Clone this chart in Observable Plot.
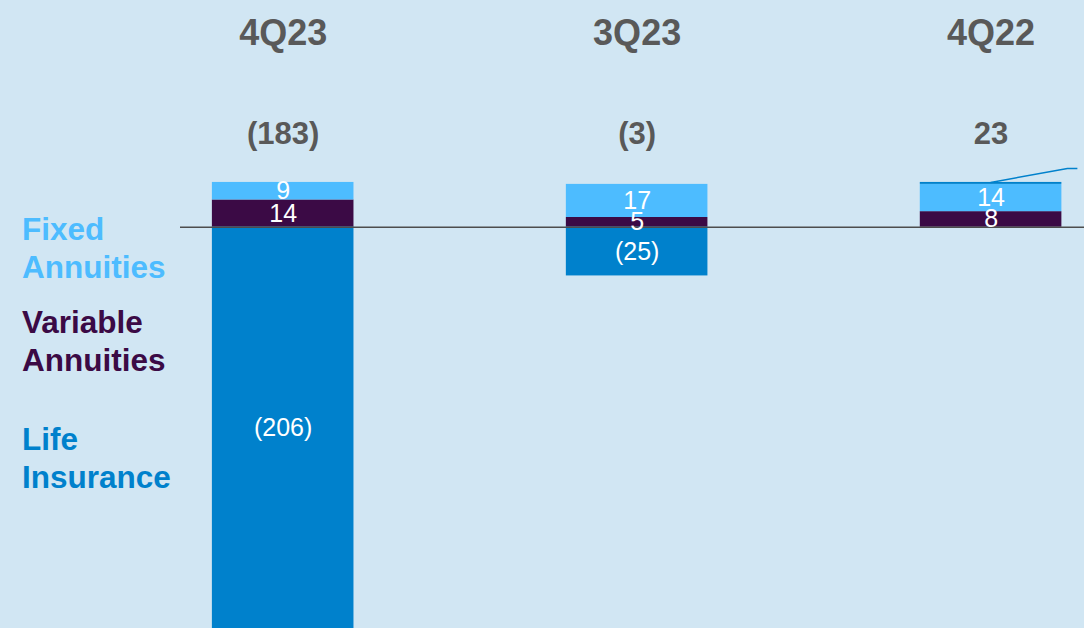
<!DOCTYPE html>
<html>
<head>
<meta charset="utf-8">
<script src="https://cdn.jsdelivr.net/npm/d3@7"></script>
<script src="https://cdn.jsdelivr.net/npm/@observablehq/plot@0.6"></script>
<style>
  html, body { margin: 0; padding: 0; background: #d1e6f3; }
  #wrap { position: relative; width: 1084px; height: 628px; overflow: hidden; font-family: "Liberation Sans", Arial, sans-serif; }
  #legend { position: absolute; left: 22px; top: 210px; font-weight: bold; font-size: 31.5px; line-height: 38px; }
  #legend div { margin: 0; }
</style>
</head>
<body>
<div id="wrap">
  <div id="chart"></div>
  <div id="legend"></div>
</div>
<script>
// ---- data ----
const quarters = ["4Q23", "3Q23", "4Q22"];
const totals = [-183, -3, 23];
const segments = ["Variable Annuities", "Fixed Annuities", "Life Insurance"];
const segmentColors = ["#3b0a45", "#4dbcff", "#0081cc"];
const variableAnnuities = [14, 5, 8];
const fixedAnnuities = [9, 17, 14];
const lifeInsurance = [-206, -25, 1];

const fmt = v => v < 0 ? `(${Math.abs(v)})` : `${v}`;

const rows = [];
quarters.forEach((q, i) => {
  rows.push({quarter: q, segment: segments[0], value: variableAnnuities[i]});
  rows.push({quarter: q, segment: segments[1], value: fixedAnnuities[i]});
  rows.push({quarter: q, segment: segments[2], value: lifeInsurance[i]});
});
const totalRows = quarters.map((q, i) => ({quarter: q, total: totals[i]}));

const stackOpts = {x: "quarter", y: "value", z: "segment", order: segments};

const plot = Plot.plot({
  width: 1084,
  height: 628,
  marginLeft: 180,
  marginRight: 0,
  marginTop: 0,
  marginBottom: 0,
  style: {background: "#d1e6f3", fontFamily: "'Liberation Sans', Arial, sans-serif", overflow: "hidden"},
  x: {domain: quarters, paddingInner: 0.6, paddingOuter: 0.077, align: 0.585, round: false, axis: null},
  y: {domain: [-206, 116.4], axis: null},
  color: {domain: segments, range: segmentColors},
  marks: [
    Plot.barY(rows, Plot.stackY({...stackOpts, fill: "segment", inset: 0})),
    Plot.ruleY([0], {stroke: "#4d4d4d", strokeWidth: 1.5}),
    Plot.text(rows, Plot.stackY({...stackOpts, text: d => Math.abs(d.value) < 3 ? "" : fmt(d.value),
      fill: "white", fontSize: 25, fontWeight: "normal"})),
    Plot.text(quarters, {x: d => d, frameAnchor: "top", lineAnchor: "middle", dy: 33, text: d => d,
      fill: "#595959", fontSize: 36, fontWeight: "bold"}),
    Plot.text(totalRows, {x: "quarter", frameAnchor: "top", lineAnchor: "middle", dy: 134, text: d => fmt(d.total),
      fill: "#595959", fontSize: 31, fontWeight: "bold"})
  ]
});
document.getElementById("chart").appendChild(plot);

// callout leader line for the small 4Q22 Life Insurance segment, positioned through Plot's scales
(function () {
  const xs = plot.scale("x"), ys = plot.scale("y");
  let xb;
  if (xs.apply) { xb = xs.apply; } else {
    xb = d3.scaleBand(xs.domain, xs.range).paddingInner(xs.paddingInner).paddingOuter(xs.paddingOuter).align(xs.align);
  }
  const yf = ys.apply ? ys.apply : d3.scaleLinear(ys.domain, ys.range);
  const bw = xs.bandwidth != null ? xs.bandwidth : 141;
  const i = 2;
  const q = quarters[i];
  const top = variableAnnuities[i] + fixedAnnuities[i] + lifeInsurance[i];
  const x0 = xb(q) + bw / 2, y0 = yf(top) + 0.5;
  const x1 = xb(q) + bw + 6, y1 = y0 - 14;
  d3.select(plot).append("path")
    .attr("d", `M${x0},${y0}L${x1},${y1}L${x1 + 10},${y1}`)
    .attr("fill", "none").attr("stroke", segmentColors[2]).attr("stroke-width", 1.5);
})();

// legend
const legend = document.getElementById("legend");
const legendLines = [["Fixed", "Annuities"], ["Variable", "Annuities"], ["Life", "Insurance"]];
const legendColors = [segmentColors[1], segmentColors[0], segmentColors[2]];
const gaps = [0, 17, 41];
legendLines.forEach((lines, k) => {
  const d = document.createElement("div");
  d.style.color = legendColors[k];
  d.style.marginTop = gaps[k] + "px";
  d.innerHTML = lines.join("<br>");
  legend.appendChild(d);
});
</script>
</body>
</html>
